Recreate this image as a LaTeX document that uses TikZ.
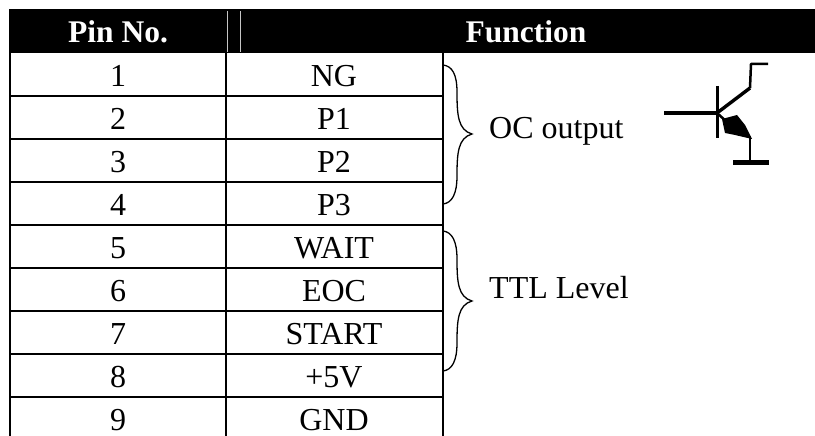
\documentclass[tikz,border=0pt]{standalone}
\usepackage{fontspec}
\setmainfont{Liberation Serif}
\begin{document}
\begin{tikzpicture}[x=1pt,y=-1pt,
  cell/.style={inner sep=0pt,anchor=base,font=\fontsize{32}{32}\selectfont},
  head/.style={inner sep=0pt,anchor=base,text=white,font=\fontsize{31.5}{32}\selectfont\bfseries},
  rule/.style={line width=1.7pt,black},
  brace/.style={line width=1.3pt,black},
  sym/.style={line width=2.5pt,black}]
\useasboundingbox (0,0) rectangle (815,436);
\fill[white] (0,0) rectangle (815,436);
\fill[black] (9,9) rectangle (815,53.5);
\fill[white] (659,52.7) rectangle (783,54);
\draw[gray!45,line width=.4pt] (227,11) -- (227,52) (240,11) -- (240,52);
\node[head] (hpin) at (118,43) {Pin No.};
\node[head] (hfun) at (526,43) {Function};
% grid
\foreach \y in {96,139,182,225,268,311,354,397} \draw[rule] (9.5,\y) -- (443.5,\y);
\foreach \x in {10,226,443} \draw[rule] (\x,53) -- (\x,436);
% rows
\foreach \i/\t [count=\n from 0] in {1/NG,2/P1,3/P2,4/P3,5/WAIT,6/EOC,7/START,8/+5V,9/GND}{
  \node[cell] (pin\i) at (118,{86.5+43*\n}) {\i};
  \node[cell] (fn\i) at (334,{86.5+43*\n}) {\t};
}
% braces
\draw[brace] (443,65) .. controls (452,66) and (457,74) .. (457,92)
  .. controls (457,115) and (458,130) .. (472,134)
  .. controls (458,138) and (457,153) .. (457,176)
  .. controls (457,194) and (452,203) .. (443,204);
\draw[brace] (443,231) .. controls (452,232) and (457,241) .. (457,259)
  .. controls (457,282) and (458,297) .. (472,301)
  .. controls (458,305) and (457,320) .. (457,343)
  .. controls (457,361) and (452,370) .. (443,371);
\node[cell,anchor=base west] (oc) at (489,139) {OC output};
\node[cell,anchor=base west] (ttl) at (489,298) {TTL Level};
% transistor
\draw[line width=3.4pt] (664,113) -- (717,113);
\draw[line width=3pt] (717,86) -- (717,138);
\draw[line width=3.4pt] (717,113) -- (750,88);
\draw[sym,line join=round] (750,88) -- (751,64) -- (768,64);
\draw[sym] (717,113) -- (727,122);
\fill[black] (722,119) -- (737,115) -- (745,125) -- (752,139) -- (735,135) -- (725,133) -- cycle;
\draw[sym] (750,136) -- (750,162);
\draw[line width=5pt] (733,162) -- (769,162);
\end{tikzpicture}
\end{document}
